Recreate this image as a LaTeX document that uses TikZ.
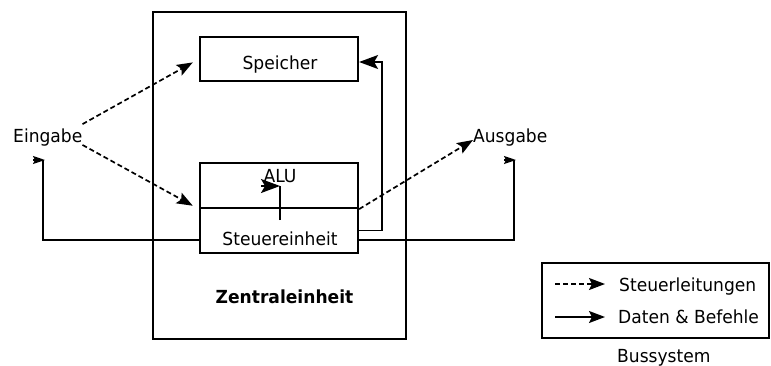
\documentclass[tikz,border=0pt]{standalone}
\usepackage{fontspec}
\setmainfont{DejaVu Sans}[FakeStretch=0.95]
\usetikzlibrary{arrows.meta,calc}
\begin{document}
\begin{tikzpicture}[x=1pt,y=-1pt,
  font=\fontsize{18}{20}\selectfont,
  box/.style={draw, line width=2.2pt, inner sep=0pt, minimum width=158pt, minimum height=44pt},
  txt/.style={inner sep=0pt},
  dat/.style={line width=1.6pt},
  ctrl/.style={line width=1.7pt, dash pattern=on 5pt off 3pt, -{Stealth[length=16pt,width=12pt,inset=3pt]}},
  bighead/.style={line width=1.6pt, -{Stealth[length=19pt,width=14pt,inset=4pt]}},
  smallhead/.style={line width=1.6pt, -{Stealth[length=12pt,width=8pt,inset=2pt]}}]
\useasboundingbox (0,0) rectangle (771,365);
% central unit
\node[draw, line width=2.2pt, inner sep=0pt, minimum width=253pt, minimum height=327pt] (zentral) at (279.5,175.5) {};
\node[txt, anchor=base, font=\fontsize{18}{20}\selectfont\bfseries] (zlabel) at (284.5,303) {Zentraleinheit};
% boxes
\node[box] (speicher) at (279,59) {};
\node[txt, anchor=base] (speichertxt) at (280,69) {Speicher};
\node[box, minimum height=45pt] (alu) at (279,185.5) {};
\node[box, minimum height=45pt] (steuer) at (279,230.5) {};
\node[txt, anchor=base] (alutxt) at (280,182) {ALU};
\node[txt, anchor=base] (steuertxt) at (280,245) {Steuereinheit};
% input / output
\node[txt, anchor=base west] (eingabe) at (13,142) {Eingabe};
\node[txt, anchor=base west] (ausgabe) at (473,142) {Ausgabe};
\coordinate (einin) at (43,160);
\coordinate (eintail) at (33,160);
\coordinate (einhead) at (45,160);
\coordinate (ausin) at (514,160);
\coordinate (austail) at (504,160);
\coordinate (aushead) at (516,160);
\coordinate (alubot) at (280,220);
\coordinate (alutip) at (280,186);
\coordinate (alutail) at (261,186);
% control lines
\draw[ctrl, shorten >=7pt] ([yshift=4pt]eingabe.north east) -- (speicher.west);
\draw[ctrl, shorten >=7pt] ([yshift=1pt]eingabe.south east) -- (alu.south west);
\draw[ctrl] (alu.south east) -- ([yshift=2pt]ausgabe.base west);
% data lines
\draw[dat, bighead] (steuer.east) -- ++(23,0) |- ([yshift=-3pt]speicher.east);
\draw[dat] ([yshift=-9.5pt]steuer.west) -| (einin);
\draw[smallhead] (eintail) -- (einhead);
\draw[dat] ([yshift=-9.5pt]steuer.east) -| (ausin);
\draw[smallhead] (austail) -- (aushead);
\draw[dat] (alubot) -- (alutip);
\draw[bighead] (alutail) -- (alutip);
% legend
\node[draw, line width=1.6pt, inner sep=0pt, minimum width=227pt, minimum height=75pt] (legend) at (655.5,300.5) {};
\coordinate (l1s) at (555,284);
\coordinate (l1e) at (605,284);
\coordinate (l2s) at (555,317);
\coordinate (l2e) at (605,317);
\draw[ctrl] (l1s) -- (l1e);
\draw[dat, -{Stealth[length=16pt,width=12pt,inset=3pt]}] (l2s) -- (l2e);
\node[txt, anchor=base west] (steuerl) at (619,291) {Steuerleitungen};
\node[txt, anchor=base west] (daten) at (618,323) {Daten \& Befehle};
\node[txt, anchor=base west] (bus) at (617,362) {Bussystem};
\end{tikzpicture}
\end{document}
